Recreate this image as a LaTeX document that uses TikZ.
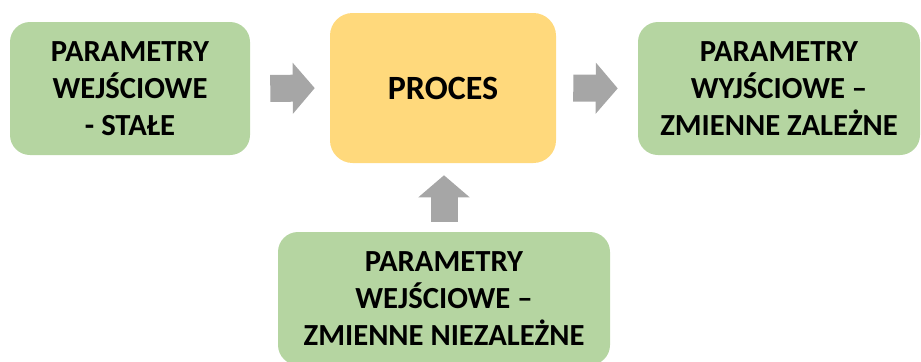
\documentclass[tikz,border=0pt]{standalone}
\usepackage{fontspec}
\setmainfont{Carlito}
\usetikzlibrary{arrows.meta, positioning}
\definecolor{boxgreen}{HTML}{B5D5A1}
\definecolor{boxyellow}{HTML}{FFD97C}
\definecolor{arrgray}{HTML}{A6A6A6}
\newdimen\pxunit
\pxunit=0.75pt

\begin{document}
\begin{tikzpicture}[
        x=0.75pt,
        y=-0.75pt,
        font=\bfseries\fontsize{23}{27.75}\selectfont,
        box/.style={fill=boxgreen, rounded corners=15pt, align=center, inner sep=0pt,
            minimum height=133\pxunit},
        procbox/.style={fill=boxyellow, rounded corners=17pt, align=center, inner sep=0pt,
            minimum width=226\pxunit, minimum height=150\pxunit,
            font=\bfseries\fontsize{25.5}{30}\selectfont},
        arr/.style={draw=arrgray, line width=20.25pt, -{Triangle[length=16.5pt, width=37.5pt]}}
    ]
        \useasboundingbox (0,0) rectangle (921,361);
        \clip (0,0) rectangle (921,361);

        \node[box, minimum width=240\pxunit] (stale) at (130,88.5) {PARAMETRY\\WEJŚCIOWE\\- STAŁE};
        \node[procbox] (proces) at (443,88) {PROCES};
        \node[box, minimum width=282\pxunit] (zalezne) at (779,88.5) {PARAMETRY\\WYJŚCIOWE –\\ZMIENNE ZALEŻNE};
        \node[box, minimum width=332\pxunit] (niezalezne) at (444,298.5) {PARAMETRY\\WEJŚCIOWE –\\ZMIENNE NIEZALEŻNE};

        \draw[arr, shorten <=20\pxunit, shorten >=15\pxunit] (stale.east) -- (proces.west);
        \draw[arr, shorten <=17\pxunit, shorten >=20\pxunit] (proces.east) -- (zalezne.west);
        \draw[arr, shorten <=10\pxunit, shorten >=12\pxunit] (niezalezne.north) -- (niezalezne.north |- proces.south);
    \end{tikzpicture}
\end{document}
